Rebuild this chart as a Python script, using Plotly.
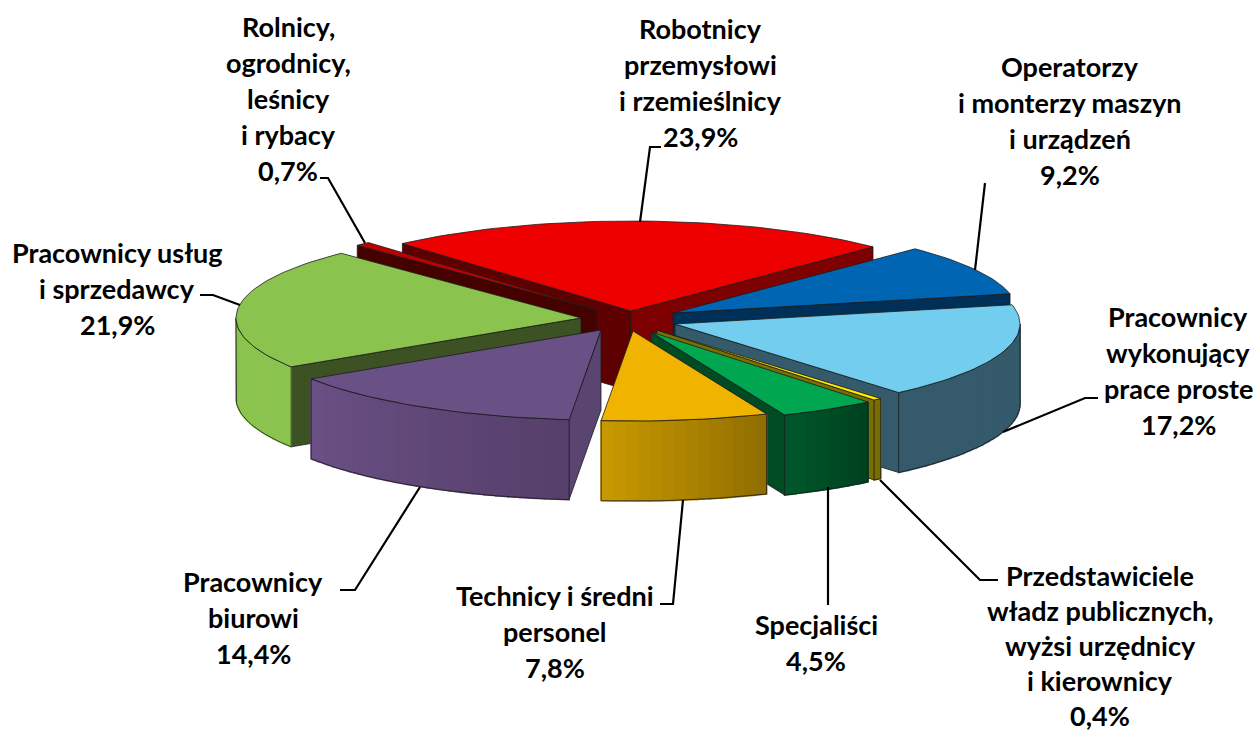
import math
import plotly.graph_objects as go

# ---- data ----
categories = [
    ["Robotnicy", "przemysłowi", "i rzemieślnicy"],
    ["Operatorzy", "i monterzy maszyn", "i urządzeń"],
    ["Pracownicy", "wykonujący", "prace proste"],
    ["Przedstawiciele", "władz publicznych,", "wyżsi urzędnicy", "i kierownicy"],
    ["Specjaliści"],
    ["Technicy i średni", "personel"],
    ["Pracownicy", "biurowi"],
    ["Pracownicy usług", "i sprzedawcy"],
    ["Rolnicy,", "ogrodnicy,", "leśnicy", "i rybacy"],
]
values = [23.9, 9.2, 17.2, 0.4, 4.5, 7.8, 14.4, 21.9, 0.7]

# ---- styles ----
top_colors = ["#EE0000", "#0066B3", "#72CDEE", "#FFEE00", "#00A650",
              "#F0B400", "#695085", "#8BC34F", "#C00000"]
cut_colors = ["#7F0000", "#003057", "#355A6B", "#7A7000", "#004B23",
              "#8F6C00", "#5A4470", "#3C5222", "#450000"]
cut_left_colors = ["#5F0000", "#003057", "#355A6B", "#7A7000", "#004B23",
                   "#8F6C00", "#5A4470", "#3C5222", "#450000"]
wall_right = ["#7F0000", "#003057", "#355A6B", "#6A6000", "#00401F",
              "#8F6C00", "#563F6A", "#8BC34F", "#7F0000"]
wall_left = ["#7F0000", "#003057", "#355A6B", "#857A00", "#00582B",
             "#C99A00", "#6A5085", "#8BC34F", "#7F0000"]

# ---- geometry of the projection ----
START_DEG = -41.5
RX, RY, DEPTH = 345, 90, 80
# apex of every exploded slice on the canvas
apex_x = [631, 673, 675, 657, 651, 633, 601, 581, 597]
apex_y = [311, 313, 324, 330, 332, 331, 330, 318, 310]
draw_order = [0, 8, 1, 7, 2, 3, 4, 6, 5]
OUT = "#1c1c1c"

total = sum(values)
angles = [START_DEG]
for v in values:
    angles.append(angles[-1] + v / total * 360)


def pt(i, deg):
    a = math.radians(deg)
    return apex_x[i] + RX * math.sin(a), apex_y[i] - RY * math.cos(a)


def arc(i, a0, a1, step=1.5):
    n = max(2, int(abs(a1 - a0) / step) + 1)
    return [pt(i, a0 + (a1 - a0) * k / (n - 1)) for k in range(n)]


def mix(c0, c1, t):
    a = [int(c0[j:j + 2], 16) for j in (1, 3, 5)]
    b = [int(c1[j:j + 2], 16) for j in (1, 3, 5)]
    return "#%02X%02X%02X" % tuple(round(p + (q - p) * t) for p, q in zip(a, b))


fig = go.Figure()


def poly(points, fill, line=OUT, width=0.8):
    xs = [p[0] for p in points] + [points[0][0]]
    ys = [p[1] for p in points] + [points[0][1]]
    fig.add_trace(go.Scatter(x=xs, y=ys, mode="lines", fill="toself", fillcolor=fill,
                             line=dict(color=line, width=width),
                             hoverinfo="skip", showlegend=False))


def down(points):
    return [(x, y + DEPTH) for x, y in points]


for i in draw_order:
    a0, a1 = angles[i], angles[i + 1]
    apex = (apex_x[i], apex_y[i])
    norm0 = a0 % 360
    norm1 = a1 % 360
    # cut faces that look towards the viewer
    if 180 < norm0 < 360:
        e = pt(i, a0)
        poly([apex, e, (e[0], e[1] + DEPTH), (apex[0], apex[1] + DEPTH)], cut_left_colors[i])
    if 0 < norm1 < 180:
        e = pt(i, a1)
        poly([apex, e, (e[0], e[1] + DEPTH), (apex[0], apex[1] + DEPTH)], cut_colors[i])
    # outer wall, front half only, in shaded strips
    w0, w1 = max(a0, 90), min(a1, 270)
    if w1 > w0:
        n = max(1, int((w1 - w0) / 2))
        for k in range(n):
            s0 = w0 + (w1 - w0) * k / n
            s1 = w0 + (w1 - w0) * (k + 1) / n
            c = mix(wall_right[i], wall_left[i], (k + 0.5) / n)
            top_edge = arc(i, s0, s1)
            poly(top_edge + down(top_edge)[::-1], c, line=c, width=1.6)
        edge = arc(i, w0, w1)
        poly(edge + down(edge)[::-1], "rgba(0,0,0,0)")
    # top face
    poly([apex] + arc(i, a0, a1), top_colors[i])

# ---- leader lines ----
leaders = [
    [(640, 222), (650, 147), (661, 147)],
    [(975, 270), (985, 183)],
    [(1003, 432), (1085, 398), (1098, 398)],
    [(880, 480), (980, 580), (998, 580)],
    [(828, 487), (828, 605)],
    [(683, 500), (673, 604), (660, 604)],
    [(420, 487), (355, 590), (340, 590)],
    [(240, 305), (213, 295), (200, 295)],
    [(365, 243), (328, 178), (320, 178)],
]
for pts in leaders:
    path = "M " + " L ".join(f"{x},{y}" for x, y in pts)
    fig.add_shape(type="path", path=path, line=dict(color="black", width=2.2), xref="x", yref="y")

# ---- labels ----
label_x = [700, 1070, 1178, 1100, 816, 555, 253, 117, 288]
label_y = [28, 66, 316, 575, 624, 595, 581, 252, 26]
line_step = [36, 36, 36, 35, 36, 36, 36, 36, 36]
for cat, v, lx, ly, step in zip(categories, values, label_x, label_y, line_step):
    lines = cat + [f"{v:.1f}".replace(".", ",") + "%"]
    for j, text in enumerate(lines):
        fig.add_annotation(x=lx, y=ly + j * step, text=text, showarrow=False,
                           xanchor="center", yanchor="middle",
                           font=dict(family="Lato", size=27, color="black", weight="bold"))

fig.update_layout(
    width=1257, height=733, margin=dict(l=0, r=0, t=0, b=0),
    paper_bgcolor="white", plot_bgcolor="white", showlegend=False,
    xaxis=dict(range=[0, 1257], visible=False, fixedrange=True),
    yaxis=dict(range=[733, 0], visible=False, fixedrange=True),
)
fig.write_html("out.html", config={"displayModeBar": False},
               post_script="document.body.style.margin='0';document.body.style.overflow='hidden';")
